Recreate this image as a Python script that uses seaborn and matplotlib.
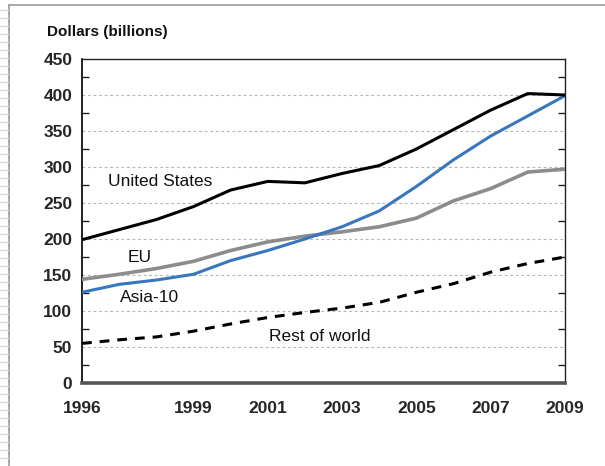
import matplotlib
matplotlib.use("Agg")
import matplotlib.pyplot as plt
from matplotlib.lines import Line2D
import seaborn as sns
import pandas as pd
import numpy as np

years = [1996, 1997, 1998, 1999, 2000, 2001, 2002, 2003, 2004, 2005, 2006, 2007, 2008, 2009]
united_states = [199, 213, 227, 245, 268, 280, 278, 291, 302, 325, 352, 379, 402, 400]
eu = [144, 151, 159, 169, 184, 196, 204, 210, 217, 229, 253, 270, 293, 297]
asia_10 = [126, 137, 143, 151, 170, 184, 200, 217, 239, 273, 310, 343, 371, 399]
rest_of_world = [55, 60, 64, 72, 82, 91, 98, 104, 112, 126, 138, 154, 166, 175]

x_tick_labels = [1996, 1999, 2001, 2003, 2005, 2007, 2009]
y_ticks = [0, 50, 100, 150, 200, 250, 300, 350, 400, 450]
y_label = "Dollars (billions)"

series_labels = [
    ("United States", 1998.1, 280),
    ("EU", 1997.56, 174),
    ("Asia-10", 1997.83, 119),
    ("Rest of world", 2002.4, 65),
]

sns.set_style("white")
plt.rcParams['font.family'] = ['Liberation Sans', 'DejaVu Sans']

fig = plt.figure(figsize=(6.05, 4.66), dpi=100)
ax = fig.add_axes([82 / 605, 1 - 383 / 466, (565 - 82) / 605, (383 - 59) / 466])

df = pd.DataFrame({
    "year": years * 4,
    "value": united_states + eu + asia_10 + rest_of_world,
    "series": (["United States"] * len(years) + ["EU"] * len(years)
               + ["Asia-10"] * len(years) + ["Rest of world"] * len(years)),
})

styles = {
    "United States": dict(color="#000000", lw=2.2, ls="-"),
    "EU": dict(color="#8c8c8c", lw=2.6, ls="-"),
    "Asia-10": dict(color="#3877be", lw=2.2, ls="-"),
    "Rest of world": dict(color="#000000", lw=2.2, ls=(0, (3.2, 2.6))),
}

for name in ["Rest of world", "EU", "Asia-10", "United States"]:
    sub = df[df["series"] == name]
    st = styles[name]
    sns.lineplot(data=sub, x="year", y="value", ax=ax, color=st["color"],
                 linewidth=st["lw"], linestyle=st["ls"], zorder=3)

ax.set_xlim(1996, 2009)
ax.set_ylim(0, 450)
ax.set_xlabel("")
ax.set_ylabel("")

# gridlines
for v in y_ticks[1:-1]:
    ax.axhline(v, color="#b5b5b5", lw=0.8, ls=(0, (2.5, 2.5)), zorder=1)

ax.set_yticks(y_ticks)
ax.set_yticklabels([str(v) for v in y_ticks], fontsize=12.5, fontweight="bold")
ax.set_yticks([25 + 50 * k for k in range(9)], minor=True)
ax.set_xticks(x_tick_labels)
ax.set_xticklabels([str(v) for v in x_tick_labels], fontsize=12.5, fontweight="bold")
ax.set_xticks(years, minor=True)

ax.tick_params(axis="y", which="major", length=0, pad=7, left=True, right=False)
ax.tick_params(axis="y", which="minor", direction="in", length=5, width=1,
               left=True, right=True, color="#222222")
ax.tick_params(axis="x", which="major", direction="in", length=5, width=1,
               pad=13, color="#222222")
ax.tick_params(axis="x", which="minor", direction="in", length=5, width=1,
               color="#222222")

for s in ["top", "right"]:
    ax.spines[s].set_color("#222222")
    ax.spines[s].set_linewidth(1.0)
ax.spines["left"].set_color("#111111")
ax.spines["left"].set_linewidth(1.3)
ax.spines["bottom"].set_color("#555555")
ax.spines["bottom"].set_linewidth(2.6)
ax.spines["bottom"].set_zorder(4)

for text, xv, yv in series_labels:
    ax.text(xv, yv, text, fontsize=12.5, ha="center", va="center", color="#111111", zorder=5)

fig.text(47 / 605, 1 - 32 / 466, y_label, fontsize=11, fontweight="bold",
         ha="left", va="center", color="#111111")

# page frame decoration
fig.add_artist(Line2D([8.5 / 605, 8.5 / 605], [0, 1 - 4.5 / 466], color="#999999", lw=1.2))
fig.add_artist(Line2D([8.5 / 605, 1], [1 - 4.5 / 466, 1 - 4.5 / 466], color="#999999", lw=1.2))
for yy in np.arange(10, 466, 8):
    fig.add_artist(Line2D([0, 7.5 / 605], [1 - yy / 466, 1 - yy / 466], color="#d8d8d8", lw=1.0))

fig.savefig("out.png", dpi=100)
